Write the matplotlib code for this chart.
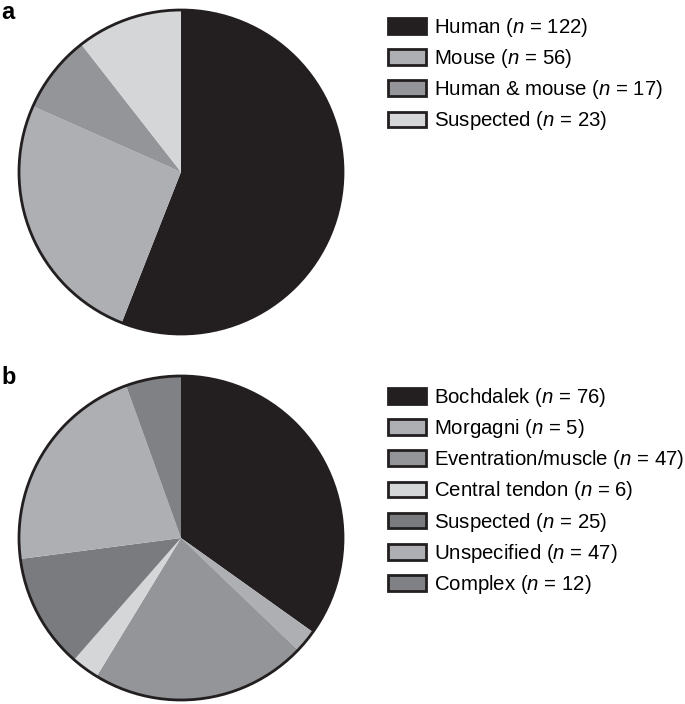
import matplotlib
matplotlib.use("Agg")
from matplotlib import pyplot as plt
from matplotlib.patches import Patch, Circle

# ---------------------------------------------
# Data
# ---------------------------------------------
a_labels = ["Human", "Mouse", "Human & mouse", "Suspected"]
a_counts = [122, 56, 17, 23]
a_colors = ["#231f20", "#aeafb3", "#939598", "#d5d6d8"]

b_labels = ["Bochdalek", "Morgagni", "Eventration/muscle", "Central tendon",
            "Suspected", "Unspecified", "Complex"]
b_counts = [76, 5, 47, 6, 25, 47, 12]
b_colors = ["#231f20", "#aeafb3", "#939598", "#d5d6d8",
            "#7a7b7f", "#aeafb3", "#808185"]

plt.rcParams["font.family"] = ["Liberation Sans", "DejaVu Sans"]
plt.rcParams["mathtext.fontset"] = "custom"
plt.rcParams["mathtext.it"] = "Liberation Sans:italic"
plt.rcParams["mathtext.rm"] = "Liberation Sans"

W, H = 685, 704
fig = plt.figure(figsize=(W / 100, H / 100), dpi=100)

EDGE = "#231f20"
R_PAD = 1.02


def px_axes(cx, cy, r):
    """Axes in pixel coords centred on (cx, cy) with pie radius r px."""
    half = r * R_PAD
    return fig.add_axes([(cx - half) / W, 1 - (cy + half) / H,
                         2 * half / W, 2 * half / H])


def draw_pie(ax, counts, colors):
    ax.pie(counts, colors=colors, startangle=90, counterclock=False,
           wedgeprops=dict(linewidth=0, edgecolor="none"))
    ax.add_patch(Circle((0, 0), 1, fill=False, edgecolor=EDGE, lw=2))
    ax.set_xlim(-R_PAD, R_PAD)
    ax.set_ylim(-R_PAD, R_PAD)
    ax.set_aspect("equal")
    ax.axis("off")


def draw_legend(labels, counts, colors, x, y):
    handles = [Patch(facecolor=c, edgecolor=EDGE, linewidth=2) for c in colors]
    texts = [f"{l} ($n$ = {n})" for l, n in zip(labels, counts)]
    fig.legend(handles, texts, loc="upper left",
               bbox_to_anchor=(x / W, 1 - y / H),
               frameon=False, fontsize=14.7, handlelength=1.85,
               handleheight=0.8, handletextpad=0.4,
               labelspacing=0.4, borderpad=0, borderaxespad=0)


# ---------------------------------------------
# Panel a
# ---------------------------------------------
ax_a = px_axes(181, 172, 162)
draw_pie(ax_a, a_counts, a_colors)
draw_legend(a_labels, a_counts, a_colors, 388, 16)
fig.text(1 / W, 1 - 1 / H, "a", fontsize=17, fontweight="bold",
         va="top", ha="left")

# ---------------------------------------------
# Panel b
# ---------------------------------------------
ax_b = px_axes(181, 538, 162)
draw_pie(ax_b, b_counts, b_colors)
draw_legend(b_labels, b_counts, b_colors, 388, 386)
fig.text(1 / W, 1 - 366 / H, "b", fontsize=17, fontweight="bold",
         va="top", ha="left")

fig.savefig("out.png", dpi=100)
